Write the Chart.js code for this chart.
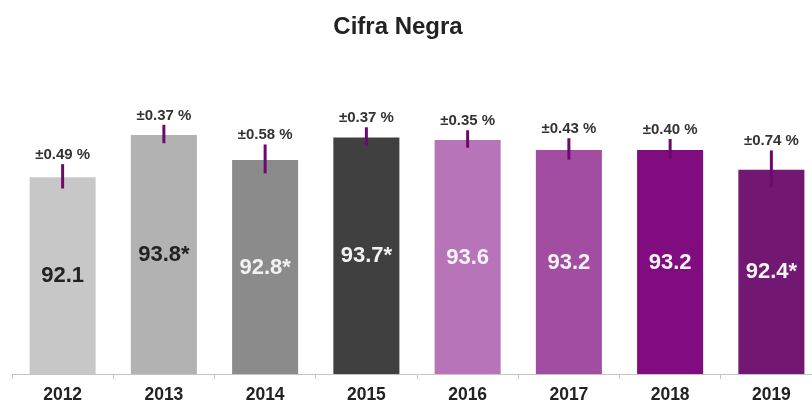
<!DOCTYPE html>
<html>
<head>
<meta charset="utf-8">
<script src="https://cdn.jsdelivr.net/npm/chart.js@4.4.0/dist/chart.umd.min.js"></script>
<style>
    html, body { margin: 0; padding: 0; background: #fff; overflow: hidden; }
    body { width: 812px; height: 405px; position: relative; }
    /* the plot runs a little past the right edge in the original, so the canvas is wider than the page */
    #wrap { position: absolute; left: -26px; top: 0; width: 848px; height: 405px; }
</style>
</head>
<body>
<div id="wrap"><canvas id="chart"></canvas></div>
<script>
// data
const years = ['2012', '2013', '2014', '2015', '2016', '2017', '2018', '2019'];
const values = [92.1, 93.8, 92.8, 93.7, 93.6, 93.2, 93.2, 92.4];
const errors = [0.49, 0.37, 0.58, 0.37, 0.35, 0.43, 0.40, 0.74];
const significant = [false, true, true, true, false, false, false, true];

const barColors = ['#c7c7c7', '#b2b2b2', '#8b8b8b', '#404040', '#b874b8', '#a24ca2', '#800c80', '#731872'];
const labelColors = ['#222222', '#222222', '#f2f2f2', '#f2f2f2', '#f4f4f4', '#f4f4f4', '#f4f4f4', '#f4f4f4'];
const errorColor = '#6c0a6c';
const fontFamily = '"Liberation Sans", Arial, Helvetica, sans-serif';

/**
 * Draws the error whiskers, the ± text above them and the value inside each bar
 */
const barExtras = {
    id: 'barExtras',
    afterDatasetsDraw(chart) {
        const ctx = chart.ctx;
        const y = chart.scales.y;
        const meta = chart.getDatasetMeta(0);
        ctx.save();
        meta.data.forEach((bar, i) => {
            const top = y.getPixelForValue(values[i] + errors[i]);
            const bottom = y.getPixelForValue(values[i] - errors[i]);
            const barTop = y.getPixelForValue(values[i]);
            const barMid = (barTop + chart.chartArea.bottom) / 2;

            // value inside the bar
            ctx.fillStyle = labelColors[i];
            ctx.font = 'bold 22px ' + fontFamily;
            ctx.textAlign = 'center';
            ctx.textBaseline = 'middle';
            const label = values[i].toFixed(1) + (significant[i] ? '*' : '');
            ctx.fillText(label, bar.x, barMid + 1);

            // error whisker
            ctx.strokeStyle = errorColor;
            ctx.lineWidth = 3;
            ctx.beginPath();
            ctx.moveTo(bar.x, top);
            ctx.lineTo(bar.x, bottom);
            ctx.stroke();

            ctx.fillStyle = '#333333';
            ctx.font = 'bold 15px ' + fontFamily;
            ctx.textBaseline = 'alphabetic';
            ctx.fillText('±' + errors[i].toFixed(2) + ' %', bar.x, top - 5);
        });
        ctx.restore();
    }
};

const ctx = document.getElementById('chart').getContext('2d');
const chart = new Chart(ctx, {
    type: 'bar',
    data: {
        labels: years,
        datasets: [{
            data: values,
            backgroundColor: barColors,
            borderColor: 'rgba(255, 255, 255, 0.45)',
            borderWidth: 1,
            borderSkipped: 'bottom',
            categoryPercentage: 1,
            barPercentage: 0.672
        }]
    },
    options: {
        responsive: true,
        maintainAspectRatio: false,
        animation: false,
        layout: {
            padding: { top: 0, bottom: 2, left: 0, right: 0 }
        },
        scales: {
            x: {
                grid: {
                    display: true,
                    drawOnChartArea: false,
                    drawTicks: true,
                    tickLength: 5,
                    color: '#c4c4c4',
                    offset: true
                },
                border: { display: true, color: '#c4c4c4', width: 1 },
                ticks: {
                    color: '#222222',
                    padding: 6,
                    font: { family: fontFamily, size: 17.5, weight: 'bold' }
                },
                // labels sit close to the bottom edge in the original
                afterFit(scale) {
                    scale.height = 29;
                }
            },
            y: {
                min: 84.16,
                max: 96.78,
                grid: { display: false },
                border: { display: false },
                ticks: { display: false },
                // keeps the plot starting where the original does, without shifting the title
                afterFit(scale) {
                    scale.width = 38;
                }
            }
        },
        plugins: {
            legend: { display: false },
            tooltip: { enabled: false },
            title: {
                display: true,
                text: 'Cifra Negra',
                color: '#222222',
                font: { family: fontFamily, size: 24, weight: 'bold' },
                padding: { top: 13, bottom: 18 }
            }
        }
    },
    plugins: [barExtras]
});
</script>
</body>
</html>
